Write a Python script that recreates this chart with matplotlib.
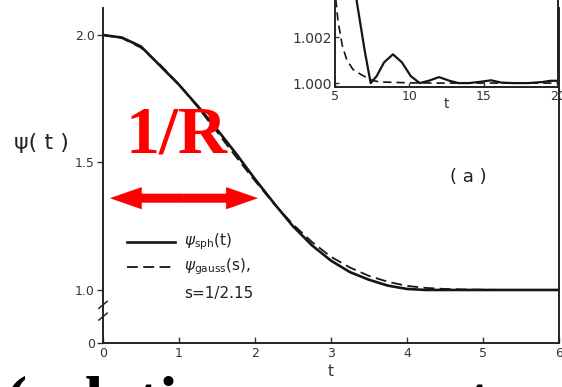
import matplotlib
matplotlib.use("Agg")
import matplotlib.pyplot as plt
import matplotlib.transforms as mtransforms
from matplotlib.patches import FancyArrowPatch

# ---- data ----
t_main = [0.0, 0.25, 0.5, 0.75, 1.0, 1.25, 1.5, 1.75, 2.0, 2.25, 2.5, 2.75,
          3.0, 3.25, 3.5, 3.75, 4.0, 4.25, 4.5, 4.75, 5.0, 5.25, 5.5, 5.75, 6.0]
psi_sph = [2.000, 1.990, 1.955, 1.880, 1.805, 1.720, 1.630, 1.535, 1.435, 1.340,
           1.250, 1.175, 1.115, 1.070, 1.040, 1.017, 1.004, 1.000, 1.000, 1.000,
           1.000, 1.000, 1.000, 1.000, 1.000]
psi_gauss = [2.000, 1.988, 1.950, 1.884, 1.806, 1.716, 1.620, 1.522, 1.428, 1.338,
             1.257, 1.188, 1.130, 1.088, 1.055, 1.032, 1.016, 1.008, 1.004, 1.002,
             1.001, 1.000, 1.000, 1.000, 1.000]

t_in_sph = [5.0, 6.0, 6.5, 7.0, 7.4, 7.8, 8.3, 8.9, 9.5, 10.1, 10.7, 11.3, 12.0,
            12.7, 13.3, 14.0, 14.7, 15.5, 16.2, 17.0, 18.0, 19.0, 19.5, 20.0]
in_sph = [1.0120, 1.0055, 1.0034, 1.0014, 1.0000, 1.0003, 1.0009, 1.00125, 1.0009,
          1.0003, 1.0000, 1.0001, 1.00026, 1.0001, 1.0000, 1.0000, 1.00005, 1.00012,
          1.00002, 1.0000, 1.0000, 1.00005, 1.0001, 1.0001]
t_in_gauss = [5.0, 5.2, 5.5, 5.8, 6.2, 6.8, 7.5, 8.0, 9.0, 10.0, 12.0, 14.0, 16.0, 18.0, 20.0]
in_gauss = [1.0040, 1.0027, 1.0016, 1.0010, 1.0006, 1.00035, 1.00012, 1.00005,
            1.00003, 1.00001, 1.0, 1.0, 1.0, 1.0, 1.0]

x_ticks = [0, 1, 2, 3, 4, 5, 6]
y_ticks = [0.792, 1.0, 1.5, 2.0]
y_ticklabels = ["0", "1.0", "1.5", "2.0"]
inset_xticks = [5, 10, 15, 20]
inset_yticks = [1.000, 1.002]
inset_yticklabels = ["1.000", "1.002"]
legend_labels = [r"$\psi_{\rm sph}$(t)", r"$\psi_{\rm gauss}$(s),", "s=1/2.15"]
arrow_span = [0.09, 2.04]
arrow_y = 1.36

ink = "#151515"
tickc = "#333333"

fig = plt.figure(figsize=(5.62, 3.87), dpi=100)
fig.patch.set_facecolor("white")

# ---- main axes ----
ax = fig.add_axes([103 / 562, 1 - 343 / 387, 456 / 562, 335 / 387])
ax.plot(t_main, psi_sph, color=ink, lw=1.9, solid_capstyle="round")
ax.plot(t_main, psi_gauss, color=ink, lw=1.3, dashes=(6, 3))
ax.set_xlim(0, 6)
ax.set_ylim(0.792, 2.106)
ax.spines["top"].set_visible(False)
for s in ["left", "bottom", "right"]:
    ax.spines[s].set_color("#222222")
    ax.spines[s].set_linewidth(1.4)
ax.set_xticks(x_ticks)
ax.set_xticklabels([str(v) for v in x_ticks])
ax.set_yticks(y_ticks)
ax.set_yticklabels(y_ticklabels)
ax.tick_params(axis="x", direction="in", length=4, width=1, colors=tickc,
               labelsize=9, pad=3)
ax.tick_params(axis="y", direction="out", length=4, width=1, colors=tickc,
               labelsize=9, pad=2)
ax.set_xlabel("t", fontsize=11, color=tickc, labelpad=3)
ax.text(-0.134, 0.597, "ψ( t )", fontsize=16, color="#222222", ha="center",
        va="center", transform=ax.transAxes)

# axis break marks on the left spine
bt = mtransforms.blended_transform_factory(ax.transAxes, ax.transData)
ax.plot([0, 0], [0.90, 0.94], color="white", lw=3, transform=bt, clip_on=False)
ax.plot([-0.009, 0.009], [0.928, 0.955], color="#222222", lw=1.1, transform=bt, clip_on=False)
ax.plot([-0.009, 0.009], [0.882, 0.909], color="#222222", lw=1.1, transform=bt, clip_on=False)

# legend drawn by hand
ax.plot([0.0526, 0.158], [0.3015, 0.3015], color=ink, lw=1.9, transform=ax.transAxes)
ax.plot([0.0526, 0.158], [0.2269, 0.2269], color=ink, lw=1.3, dashes=(6, 3),
        transform=ax.transAxes)
for lab, yy in zip(legend_labels, [0.3015, 0.2269, 0.149]):
    ax.text(0.178, yy, lab, fontsize=11, color="#222222", ha="left", va="center",
            transform=ax.transAxes)

ax.text(4.57, 1.443, "( a )", fontsize=13, color="#222222", ha="left", va="center")

# red annotation
ax.text(0.97, 1.54, "1/R", fontsize=49, color="red", fontweight="bold",
        family="Liberation Serif", ha="center", va="baseline")
mid = (arrow_span[0] + arrow_span[1]) / 2
for end in arrow_span:
    ax.add_patch(FancyArrowPatch((mid, arrow_y), (end, arrow_y),
                                 arrowstyle="simple,head_length=23,head_width=16,tail_width=6.5",
                                 mutation_scale=1, color="red", lw=0,
                                 shrinkA=0, shrinkB=0, clip_on=False))

# ---- inset ----
axi = fig.add_axes([335 / 562, 1 - 87 / 387, 223 / 562, 87 / 387])
axi.patch.set_alpha(0)
axi.plot(t_in_sph, in_sph, color=ink, lw=1.6)
axi.plot(t_in_gauss, in_gauss, color=ink, lw=1.2, dashes=(5, 3))
axi.set_xlim(5, 20)
axi.set_ylim(0.99983, 1.00361)
axi.spines["top"].set_visible(False)
for s in ["left", "bottom", "right"]:
    axi.spines[s].set_color("#222222")
    axi.spines[s].set_linewidth(1.4)
axi.set_xticks(inset_xticks)
axi.set_xticklabels([str(v) for v in inset_xticks])
axi.set_yticks(inset_yticks)
axi.set_yticklabels(inset_yticklabels)
axi.tick_params(axis="both", direction="in", length=3, width=1, colors=tickc,
                labelsize=9, pad=2)
axi.tick_params(axis="y", labelsize=10)
axi.set_xlabel("t", fontsize=10, color=tickc, labelpad=-4)

# cut-off caption at the bottom
fig.text(5 / 562, 1 - 423 / 387, "(relative momentum)", fontsize=48,
         fontweight="bold", family="Liberation Serif", color="black",
         ha="left", va="baseline")

fig.savefig("out.png", dpi=100, facecolor="white")
